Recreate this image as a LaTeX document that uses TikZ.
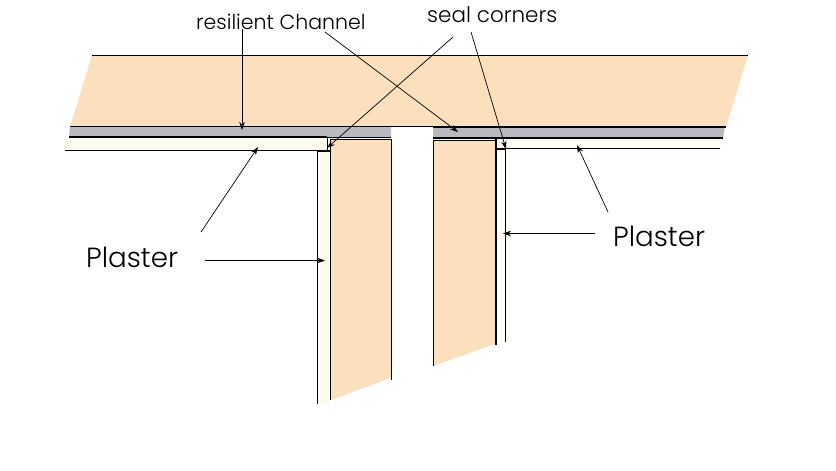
\documentclass[tikz,border=0pt]{standalone}
\usepackage{fontspec}
\setmainfont{Poppins}[UprightFont=* Light]
\usetikzlibrary{arrows.meta}
\definecolor{wood}{HTML}{FCE0BE}
\definecolor{chan}{HTML}{B9B9C0}
\definecolor{plasterL}{HTML}{FCFBEE}
\definecolor{plasterR}{HTML}{FFFDF5}
\tikzset{
  leader/.style={line width=0.7pt,-{Stealth[length=8pt,width=5.5pt]}},
  edge line/.style={line width=0.9pt,line cap=butt},
  heavy line/.style={line width=2pt,line cap=butt},
  small label/.style={inner sep=0pt,font=\fontsize{20.5}{24}\selectfont,anchor=base west},
  seal label/.style={inner sep=0pt,font=\fontsize{21.5}{24}\selectfont,anchor=base west},
  big label/.style={inner sep=0pt,font=\fontsize{27.7}{30}\selectfont,anchor=base west}
}
\begin{document}
\begin{tikzpicture}[x=1pt,y=-1pt]
\useasboundingbox (0,0) rectangle (836,471);
\fill[white] (0,0) rectangle (836,471);
% fills
\fill[wood] (92,55) -- (748,55) -- (726,127) -- (70,127) -- cycle;
\fill[chan] (70,126) -- (391,126) -- (391,137) -- (69,137) -- cycle;
\fill[chan] (433,127) -- (725,127) -- (723,138) -- (433,138) -- cycle;
\fill[plasterL] (65,137) -- (327,137) -- (327,150) -- (65,150) -- cycle;
\fill[plasterR] (496,138) -- (722,138) -- (720,148) -- (496,148) -- cycle;
\fill[plasterL] (318,151) rectangle (330,404);
\fill[plasterR] (496,149) rectangle (505,342);
\fill[wood] (330,140) -- (391,140) -- (391,378) -- (331,400) -- (330,400) -- cycle;
\fill[wood] (433,140) -- (495,140) -- (495,344) -- (433,366) -- cycle;
% outlines
\draw[edge line] (92,55) -- (748,55);
\draw[edge line] (70,126) -- (433,126);
\draw[heavy line] (433,127) -- (726,127);
\draw[heavy line] (69,136.5) -- (327,136.5);
\draw[edge line] (327,137) -- (391,137);
\draw[heavy line] (433,138) -- (723,138);
\draw[edge line] (65,150.5) -- (327,150.5);
\draw[edge line] (327.5,137) -- (327.5,150.5);
\draw[heavy line] (317,151) -- (330,151);
\draw[edge line] (317.5,151) -- (317.5,404);
\draw[edge line] (330.5,139.5) -- (330.5,400);
\draw[edge line] (330,139.5) -- (391.5,139.5);
\draw[edge line] (391.5,139.5) -- (391.5,380);
\draw[edge line] (433,140) -- (496,140);
\draw[edge line] (433.5,140) -- (433.5,366);
\draw[heavy line] (495.5,139) -- (495.5,345);
\draw[heavy line] (495,149) -- (505.5,149);
\draw[edge line] (505.5,148.5) -- (720,148.5);
\draw[edge line] (505.5,149) -- (505.5,342);
% labels
\node[small label] (res) at (196,29) {resilient Channel};
\node[seal label] (seal) at (427,23) {seal corners};
\node[big label] (plL) at (86,267) {Plaster};
\node[big label] (plR) at (613,246) {Plaster};
% leader ends
\coordinate (tipRes) at (242,130);
\coordinate (tipChan) at (458,132);
\coordinate (tipSealL) at (327,148);
\coordinate (tipSealR) at (506,149);
\coordinate (tipPlA) at (258,147);
\coordinate (tipPlB) at (325,260.5);
\coordinate (tipPlC) at (577,145);
\coordinate (tipPlD) at (503,233.5);
\coordinate (startChan) at (325,32);
\coordinate (startSealL) at (453,37);
\coordinate (startSealR) at (471,32);
\coordinate (startPlA) at (201,232);
\coordinate (startPlC) at (608,212);
% leaders
\draw[leader] (tipRes |- res.south) -- (tipRes);
\draw[leader] (startChan) -- (tipChan);
\draw[leader] (startSealL) -- (tipSealL);
\draw[leader] (startSealR) -- (tipSealR);
\draw[leader] (startPlA) -- (tipPlA);
\draw[leader] ([xshift=27pt]plL.east |- tipPlB) -- (tipPlB);
\draw[leader] (startPlC) -- (tipPlC);
\draw[leader] ([xshift=-18pt]plR.west |- tipPlD) -- (tipPlD);
\end{tikzpicture}
\end{document}
